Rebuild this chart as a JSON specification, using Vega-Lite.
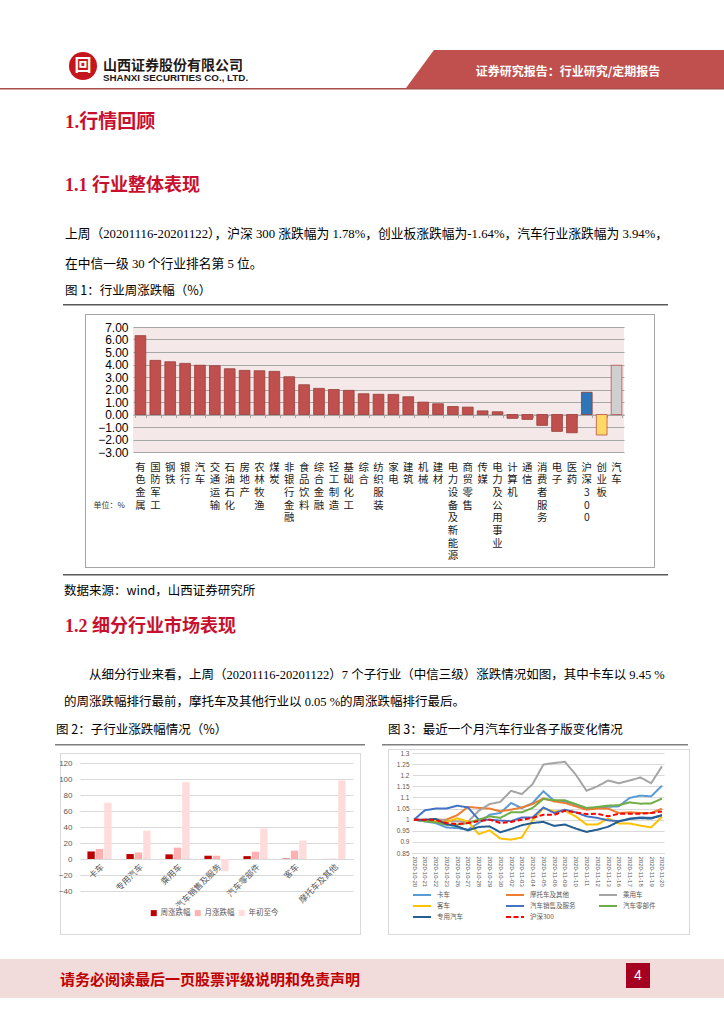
{
"$schema": "https://vega.github.io/schema/vega-lite/v6.json",
"background": "white",
"padding": 0,
"spacing": 0,
"bounds": "flush",
"resolve": {"scale": {"color": "independent", "stroke": "independent", "strokeDash": "independent"}, "legend": {"color": "independent", "stroke": "independent", "strokeDash": "independent"}},
"config": {"view": {"stroke": null}},
"datasets": {
"one": [{}],
"ind": [
{"name":"有色金属","v":6.31,"grp":"行业"},
{"name":"国防军工","v":4.33,"grp":"行业"},
{"name":"钢铁","v":4.22,"grp":"行业"},
{"name":"银行","v":4.09,"grp":"行业"},
{"name":"汽车","v":3.94,"grp":"行业"},
{"name":"交通运输","v":3.90,"grp":"行业"},
{"name":"石油石化","v":3.66,"grp":"行业"},
{"name":"房地产","v":3.53,"grp":"行业"},
{"name":"农林牧渔","v":3.50,"grp":"行业"},
{"name":"煤炭","v":3.45,"grp":"行业"},
{"name":"非银行金融","v":3.02,"grp":"行业"},
{"name":"食品饮料","v":2.38,"grp":"行业"},
{"name":"综合金融","v":2.09,"grp":"行业"},
{"name":"轻工制造","v":2.00,"grp":"行业"},
{"name":"基础化工","v":1.93,"grp":"行业"},
{"name":"综合","v":1.66,"grp":"行业"},
{"name":"纺织服装","v":1.62,"grp":"行业"},
{"name":"家电","v":1.61,"grp":"行业"},
{"name":"建筑","v":1.42,"grp":"行业"},
{"name":"机械","v":0.99,"grp":"行业"},
{"name":"建材","v":0.86,"grp":"行业"},
{"name":"电力设备及新能源","v":0.64,"grp":"行业"},
{"name":"商贸零售","v":0.59,"grp":"行业"},
{"name":"传媒","v":0.29,"grp":"行业"},
{"name":"电力及公用事业","v":0.22,"grp":"行业"},
{"name":"计算机","v":-0.31,"grp":"行业"},
{"name":"通信","v":-0.39,"grp":"行业"},
{"name":"消费者服务","v":-0.87,"grp":"行业"},
{"name":"电子","v":-1.35,"grp":"行业"},
{"name":"医药","v":-1.46,"grp":"行业"},
{"name":"沪深300","v":1.78,"grp":"沪深300"},
{"name":"创业板","v":-1.64,"grp":"创业板"},
{"name":"汽车 ","v":3.94,"grp":"汽车指数"}
],
"sub": [
{"c":"卡车","s":"周涨跌幅","v":9.45},{"c":"卡车","s":"月涨跌幅","v":12.6},{"c":"卡车","s":"年初至今","v":70.3},
{"c":"专用汽车","s":"周涨跌幅","v":6.2},{"c":"专用汽车","s":"月涨跌幅","v":8.2},{"c":"专用汽车","s":"年初至今","v":35.4},
{"c":"乘用车","s":"周涨跌幅","v":5.8},{"c":"乘用车","s":"月涨跌幅","v":14.2},{"c":"乘用车","s":"年初至今","v":96.0},
{"c":"汽车销售及服务","s":"周涨跌幅","v":4.1},{"c":"汽车销售及服务","s":"月涨跌幅","v":4.1},{"c":"汽车销售及服务","s":"年初至今","v":-15.3},
{"c":"汽车零部件","s":"周涨跌幅","v":3.6},{"c":"汽车零部件","s":"月涨跌幅","v":9.1},{"c":"汽车零部件","s":"年初至今","v":38.2},
{"c":"客车","s":"周涨跌幅","v":0.5},{"c":"客车","s":"月涨跌幅","v":10.4},{"c":"客车","s":"年初至今","v":23.1},
{"c":"摩托车及其他","s":"周涨跌幅","v":0.05},{"c":"摩托车及其他","s":"月涨跌幅","v":0.4},{"c":"摩托车及其他","s":"年初至今","v":98.2}
],
"trend": [
{"d":"2020-10-20","卡车":1.000,"摩托车及其他":1.000,"乘用车":1.000,"客车":1.000,"汽车销售及服务":1.000,"汽车零部件":1.000,"专用汽车":1.000,"沪深300":1.000},
{"d":"2020-10-21","卡车":0.992,"摩托车及其他":0.998,"乘用车":0.997,"客车":0.997,"汽车销售及服务":1.042,"汽车零部件":0.993,"专用汽车":1.000,"沪深300":1.000},
{"d":"2020-10-22","卡车":0.985,"摩托车及其他":1.000,"乘用车":1.003,"客车":0.993,"汽车销售及服务":1.050,"汽车零部件":0.988,"专用汽车":1.003,"沪深300":0.998},
{"d":"2020-10-23","卡车":0.965,"摩托车及其他":1.000,"乘用车":0.995,"客车":0.990,"汽车销售及服务":1.050,"汽车零部件":0.977,"专用汽车":0.980,"沪深300":0.985},
{"d":"2020-10-26","卡车":0.962,"摩托车及其他":1.020,"乘用车":0.992,"客车":1.006,"汽车销售及服务":1.063,"汽车零部件":0.977,"专用汽车":0.970,"沪深300":0.980},
{"d":"2020-10-27","卡车":0.955,"摩托车及其他":1.057,"乘用车":0.990,"客车":0.992,"汽车销售及服务":1.055,"汽车零部件":0.985,"专用汽车":0.952,"沪深300":0.985},
{"d":"2020-10-28","卡车":0.985,"摩托车及其他":1.053,"乘用车":1.040,"客车":0.935,"汽车销售及服务":1.000,"汽车零部件":1.000,"专用汽车":0.967,"沪深300":0.993},
{"d":"2020-10-29","卡车":1.022,"摩托车及其他":1.050,"乘用车":1.070,"客车":0.952,"汽车销售及服务":1.000,"汽车零部件":1.015,"专用汽车":0.970,"沪深300":1.000},
{"d":"2020-10-30","卡车":1.030,"摩托车及其他":1.038,"乘用车":1.080,"客车":0.915,"汽车销售及服务":0.996,"汽车零部件":1.008,"专用汽车":0.943,"沪深300":0.985},
{"d":"2020-11-02","卡车":1.075,"摩托车及其他":1.045,"乘用车":1.130,"客车":0.910,"汽车销售及服务":0.993,"汽车零部件":1.033,"专用汽车":0.958,"沪深300":0.990},
{"d":"2020-11-03","卡车":1.052,"摩托车及其他":1.055,"乘用车":1.115,"客车":0.920,"汽车销售及服务":1.010,"汽车零部件":1.033,"专用汽车":0.975,"沪深300":1.000},
{"d":"2020-11-04","卡车":1.075,"摩托车及其他":1.070,"乘用车":1.160,"客车":0.998,"汽车销售及服务":1.010,"汽车零部件":1.053,"专用汽车":0.985,"沪深300":1.008},
{"d":"2020-11-05","卡车":1.128,"摩托车及其他":1.096,"乘用车":1.248,"客车":1.052,"汽车销售及服务":1.055,"汽车零部件":1.093,"专用汽车":0.990,"沪深300":1.022},
{"d":"2020-11-06","卡车":1.085,"摩托车及其他":1.082,"乘用车":1.255,"客车":1.037,"汽车销售及服务":1.030,"汽车零部件":1.088,"专用汽车":0.972,"沪深300":1.022},
{"d":"2020-11-09","卡车":1.082,"摩托车及其他":1.075,"乘用车":1.260,"客车":1.040,"汽车销售及服务":1.045,"汽车零部件":1.087,"专用汽车":0.978,"沪深300":1.040},
{"d":"2020-11-10","卡车":1.068,"摩托车及其他":1.060,"乘用车":1.203,"客车":1.015,"汽车销售及服务":1.033,"汽车零部件":1.070,"专用汽车":0.960,"沪深300":1.033},
{"d":"2020-11-11","卡车":1.050,"摩托车及其他":1.045,"乘用车":1.130,"客车":0.978,"汽车销售及服务":1.015,"汽车零部件":1.053,"专用汽车":0.945,"沪深300":1.025},
{"d":"2020-11-12","卡车":1.053,"摩托车及其他":1.050,"乘用车":1.150,"客车":0.978,"汽车销售及服务":1.008,"汽车零部件":1.057,"专用汽车":0.955,"沪深300":1.027},
{"d":"2020-11-13","卡车":1.058,"摩托车及其他":1.050,"乘用车":1.176,"客车":1.005,"汽车销售及服务":0.997,"汽车零部件":1.063,"专用汽车":0.968,"沪深300":1.015},
{"d":"2020-11-16","卡车":1.060,"摩托车及其他":1.030,"乘用车":1.164,"客车":0.983,"汽车销售及服务":0.993,"汽车零部件":1.065,"专用汽车":0.992,"沪深300":1.027},
{"d":"2020-11-17","卡车":1.098,"摩托车及其他":1.033,"乘用车":1.176,"客车":0.983,"汽车销售及服务":1.005,"汽车零部件":1.078,"专用汽车":1.003,"沪深300":1.027},
{"d":"2020-11-18","卡车":1.108,"摩托车及其他":1.030,"乘用车":1.190,"客车":0.973,"汽车销售及服务":1.010,"汽车零部件":1.072,"专用汽车":1.007,"沪深300":1.027},
{"d":"2020-11-19","卡车":1.105,"摩托车及其他":1.030,"乘用车":1.164,"客车":0.965,"汽车销售及服务":1.008,"汽车零部件":1.073,"专用汽车":1.005,"沪深300":1.030},
{"d":"2020-11-20","卡车":1.153,"摩托车及其他":1.050,"乘用车":1.240,"客车":1.013,"汽车销售及服务":1.020,"汽车零部件":1.095,"专用汽车":1.020,"沪深300":1.037}
]
},
"vconcat": [
{"width":724,"height":50,"data":{"name":"one"},"mark":{"type":"text","text":""}},
{"hconcat":[
 {"width":68,"height":32,"data":{"name":"one"},"mark":{"type":"text","text":""}},
 {"width":30,"height":32,"data":{"name":"one"},"layer":[
   {"mark":{"type":"point","shape":"circle","filled":true,"size":784,"color":"#C4161C","opacity":1}},
   {"mark":{"type":"text","text":"回","color":"white","fontSize":17,"fontWeight":"bold","font":"Noto Sans CJK SC","baseline":"middle","align":"center"}}
 ]},
 {"width":5,"height":38,"data":{"name":"one"},"mark":{"type":"text","text":""}},
 {"width":300,"height":38,"data":{"name":"one"},"mark":{"type":"text","text":""},
  "title":{"text":"山西证券股份有限公司","subtitle":"SHANXI SECURITIES CO., LTD.","orient":"bottom","offset":-29,"anchor":"start","frame":"group","font":"Noto Sans CJK SC","fontSize":14,"fontWeight":"bold","color":"#231815","subtitleFont":"Liberation Sans","subtitleFontSize":9.8,"subtitleFontWeight":"bold","subtitleColor":"#231815","subtitlePadding":0}},
 {"width":3,"height":38,"data":{"name":"one"},"mark":{"type":"text","text":""}},
 {"width":318,"height":38,"data":{"name":"one"},"layer":[
   {"mark":{"type":"point","shape":"M-0.824,-0.1195L1,-0.1195L1,0.1195L-1,0.1195Z","filled":true,"size":101124,"color":"#C0504D","opacity":1,"strokeWidth":0}},
   {"mark":{"type":"text","text":"证券研究报告：行业研究/定期报告","color":"white","fontSize":12,"fontWeight":"bold","font":"Noto Sans CJK SC","dx":3,"dy":3,"baseline":"middle","align":"center"}}
 ]}
],"spacing":0,"bounds":"flush"},
{"width":724,"height":38,"data":{"name":"one"},"mark":{"type":"text","text":""}},
{"width":724,"height":1.5,"data":{"name":"one"},"mark":{"type":"text","text":""},"view":{"fill":"#A94F4C","stroke":null}},
{"width":724,"height":22.7,"data":{"name":"one"},"mark":{"type":"text","text":""}},
{"width":724,"height":63.4,"data":{"name":"one"},"mark":{"type":"text","text":""},
 "title":{"text":"1.行情回顾","orient":"bottom","offset":-63.4,"anchor":"start","frame":"group","dx":65,"font":"'Liberation Serif', 'Noto Sans CJK SC'","fontSize":19,"fontWeight":"bold","color":"#C8102E"}},
{"width":724,"height":51,"data":{"name":"one"},"mark":{"type":"text","text":""},
 "title":{"text":"1.1 行业整体表现","orient":"bottom","offset":-51,"anchor":"start","frame":"group","dx":65,"font":"'Liberation Serif', 'Noto Sans CJK SC'","fontSize":18,"fontWeight":"bold","color":"#C8102E"}},
{"width":724,"height":30,"data":{"name":"one"},"mark":{"type":"text","text":""},
 "title":{"text":"上周（20201116-20201122），沪深 300 涨跌幅为 1.78%，创业板涨跌幅为-1.64%，汽车行业涨跌幅为 3.94%，","orient":"bottom","offset":-30,"anchor":"start","frame":"group","dx":65,"font":"'Liberation Serif', 'Noto Sans CJK SC'","fontSize":12.75,"fontWeight":"normal","color":"#000000"}},
{"width":724,"height":26.3,"data":{"name":"one"},"mark":{"type":"text","text":""},
 "title":{"text":"在中信一级 30 个行业排名第 5 位。","orient":"bottom","offset":-26.3,"anchor":"start","frame":"group","dx":65,"font":"'Liberation Serif', 'Noto Sans CJK SC'","fontSize":12.75,"fontWeight":"normal","color":"#000000"}},
{"width":724,"height":18.1,"data":{"name":"one"},"mark":{"type":"text","text":""},
 "title":{"text":"图 1：行业周涨跌幅（%）","orient":"bottom","offset":-18.1,"anchor":"start","frame":"group","dx":65,"font":"Noto Sans CJK SC","fontSize":12.5,"fontWeight":"normal","color":"#000000"}},
{"hconcat":[
 {"width":63,"height":1.5,"data":{"name":"one"},"mark":{"type":"text","text":""}},
 {"width":605,"height":1.5,"data":{"name":"one"},"mark":{"type":"text","text":""},"view":{"fill":"#595959","stroke":null}}
],"spacing":0,"bounds":"flush"},
{"width":724,"height":10,"data":{"name":"one"},"mark":{"type":"text","text":""}},
{"hconcat":[
 {"width":85,"height":1,"data":{"name":"one"},"mark":{"type":"text","text":""}},
 {"width":570,"height":1,"data":{"name":"one"},"mark":{"type":"text","text":""},"view":{"fill":"#A6A6A6","stroke":null}}
],"spacing":0,"bounds":"flush"},
{"hconcat":[
 {"width":85,"height":253,"data":{"name":"one"},"mark":{"type":"text","text":""}},
 {"width":1,"height":253,"data":{"name":"one"},"mark":{"type":"text","text":""},"view":{"fill":"#A6A6A6","stroke":null}},
 {"width":568,"height":253,"data":{"name":"one"},"mark":{"type":"text","text":""}},
 {"width":1,"height":253,"data":{"name":"one"},"mark":{"type":"text","text":""},"view":{"fill":"#A6A6A6","stroke":null}}
],"spacing":0,"bounds":"flush"},
{"width":724,"height":13,"data":{"name":"one"},"mark":{"type":"text","text":""}},
{"hconcat":[
 {"width":133,"height":125,"data":{"name":"one"},"mark":{"type":"text","text":""}},
 {"width":491,"height":125,
  "data":{"name":"ind"},
  "view":{"fill":"#F4E8E8","stroke":null},
  "layer":[
   {"mark":{"type":"bar","strokeWidth":0.8},
    "encoding":{
     "x":{"field":"name","type":"nominal","sort":null,"scale":{"paddingInner":0.28,"paddingOuter":0.14},
      "axis":{"title":null,"labelAngle":0,"labelExpr":"split(trim(datum.label), '')","labelBaseline":"top","labelAlign":"center","labelLineHeight":12.7,"labelFontSize":10.4,"labelFont":"Noto Sans CJK SC","labelColor":"#1a1a1a","labelPadding":10,"ticks":false,"tickSize":0,"domain":false,"labelOverlap":false,"grid":false}},
     "y":{"field":"v","type":"quantitative","scale":{"domain":[-3,7],"nice":false,"zero":false},
      "axis":{"values":[-3,-2,-1,0,1,2,3,4,5,6,7],"format":".2f","grid":true,"gridColor":"#A6A6A6","gridWidth":1,"domain":false,"ticks":false,"tickSize":0,"labelFontSize":12,"labelFont":"Liberation Sans","labelColor":"#000000","labelPadding":5,"title":"单位：%","titleAngle":0,"titleX":-40,"titleY":178,"titleAlign":"left","titleBaseline":"middle","titleFontSize":8,"titleFontWeight":"normal","titleFont":"Noto Sans CJK SC","titleColor":"#333333"}},
     "color":{"field":"grp","type":"nominal","scale":{"domain":["行业","沪深300","创业板","汽车指数"],"range":["#C0504D","#2E75B6","#FFD966","#CFCFCF"]},"legend":null},
     "stroke":{"field":"grp","type":"nominal","scale":{"domain":["行业","沪深300","创业板","汽车指数"],"range":["#9B3D3A","#8E3B3A","#C0504D","#C0504D"]},"legend":null}
    }},
   {"mark":{"type":"rule","opacity":0},
    "encoding":{
     "x":{"field":"name","type":"nominal","sort":null,
      "axis":{"title":null,"orient":"bottom","offset":-37.5,"labels":false,"domain":true,"domainColor":"#A6A6A6","ticks":true,"tickColor":"#A6A6A6","tickSize":3,"tickBand":"extent","grid":false}}
    }}
  ],
  "resolve":{"axis":{"x":"independent"}}
 }
],"spacing":0,"bounds":"flush"},
{"width":724,"height":240,"data":{"name":"one"},"mark":{"type":"text","text":""}},
{"hconcat":[
 {"width":85,"height":1,"data":{"name":"one"},"mark":{"type":"text","text":""}},
 {"width":570,"height":1,"data":{"name":"one"},"mark":{"type":"text","text":""},"view":{"fill":"#A6A6A6","stroke":null}}
],"spacing":0,"bounds":"flush"},
{"width":724,"height":7,"data":{"name":"one"},"mark":{"type":"text","text":""}},
{"hconcat":[
 {"width":63,"height":1.5,"data":{"name":"one"},"mark":{"type":"text","text":""}},
 {"width":605,"height":1.5,"data":{"name":"one"},"mark":{"type":"text","text":""},"view":{"fill":"#595959","stroke":null}}
],"spacing":0,"bounds":"flush"},
{"width":724,"height":10.6,"data":{"name":"one"},"mark":{"type":"text","text":""}},
{"width":724,"height":32.7,"data":{"name":"one"},"mark":{"type":"text","text":""},
 "title":{"text":"数据来源：wind，山西证券研究所","orient":"bottom","offset":-32.7,"anchor":"start","frame":"group","dx":64,"font":"Noto Sans CJK SC","fontSize":12.5,"fontWeight":"normal","color":"#000000"}},
{"width":724,"height":50.6,"data":{"name":"one"},"mark":{"type":"text","text":""},
 "title":{"text":"1.2 细分行业市场表现","orient":"bottom","offset":-50.6,"anchor":"start","frame":"group","dx":65,"font":"'Liberation Serif', 'Noto Sans CJK SC'","fontSize":18,"fontWeight":"bold","color":"#C8102E"}},
{"width":724,"height":27,"data":{"name":"one"},"mark":{"type":"text","text":""},
 "title":{"text":"从细分行业来看，上周（20201116-20201122）7 个子行业（中信三级）涨跌情况如图，其中卡车以 9.45 %","orient":"bottom","offset":-27,"anchor":"start","frame":"group","dx":89,"font":"'Liberation Serif', 'Noto Sans CJK SC'","fontSize":12.5,"fontWeight":"normal","color":"#000000"}},
{"width":724,"height":28,"data":{"name":"one"},"mark":{"type":"text","text":""},
 "title":{"text":"的周涨跌幅排行最前，摩托车及其他行业以 0.05 %的周涨跌幅排行最后。","orient":"bottom","offset":-28,"anchor":"start","frame":"group","dx":64,"font":"'Liberation Serif', 'Noto Sans CJK SC'","fontSize":12.5,"fontWeight":"normal","color":"#000000"}},
{"hconcat":[
 {"width":56,"height":19,"data":{"name":"one"},"mark":{"type":"text","text":""}},
 {"width":332,"height":19,"data":{"name":"one"},"mark":{"type":"text","text":""},
  "title":{"text":"图 2：子行业涨跌幅情况（%）","orient":"bottom","offset":-19,"anchor":"start","frame":"group","font":"Noto Sans CJK SC","fontSize":12.5,"fontWeight":"normal","color":"#000000"}},
 {"width":336,"height":19,"data":{"name":"one"},"mark":{"type":"text","text":""},
  "title":{"text":"图 3：最近一个月汽车行业各子版变化情况","orient":"bottom","offset":-19,"anchor":"start","frame":"group","font":"Noto Sans CJK SC","fontSize":12.5,"fontWeight":"normal","color":"#000000"}}
],"spacing":0,"bounds":"flush"},
{"width":724,"height":19.1,"data":{"name":"one"},"mark":{"type":"text","text":""}},
{"hconcat":[
 {"width":55,"height":1.5,"data":{"name":"one"},"mark":{"type":"text","text":""}},
 {"width":310,"height":1.5,"data":{"name":"one"},"mark":{"type":"text","text":""},"view":{"fill":"#7F7F7F","stroke":null}},
 {"width":17,"height":1.5,"data":{"name":"one"},"mark":{"type":"text","text":""}},
 {"width":306,"height":1.5,"data":{"name":"one"},"mark":{"type":"text","text":""},"view":{"fill":"#7F7F7F","stroke":null}}
],"spacing":0,"bounds":"flush"},
{"width":724,"height":4.3,"data":{"name":"one"},"mark":{"type":"text","text":""}},
{"hconcat":[
 {"width":388,"height":1,"data":{"name":"one"},"mark":{"type":"text","text":""}},
 {"width":302,"height":1,"data":{"name":"one"},"mark":{"type":"text","text":""},"view":{"fill":"#D9D9D9","stroke":null}}
],"spacing":0,"bounds":"flush"},
{"hconcat":[
 {"width":388,"height":185,"data":{"name":"one"},"mark":{"type":"text","text":""}},
 {"width":1,"height":185,"data":{"name":"one"},"mark":{"type":"text","text":""},"view":{"fill":"#D9D9D9","stroke":null}},
 {"width":300,"height":185,"data":{"name":"one"},"mark":{"type":"text","text":""}},
 {"width":1,"height":185,"data":{"name":"one"},"mark":{"type":"text","text":""},"view":{"fill":"#D9D9D9","stroke":null}}
],"spacing":0,"bounds":"flush"},
{"width":724,"height":3.7,"data":{"name":"one"},"mark":{"type":"text","text":""}},
{"hconcat":[
 {"width":412,"height":100,"data":{"name":"one"},"mark":{"type":"text","text":""}},
 {"width":252,"height":100,
  "data":{"name":"trend"},
  "transform":[{"fold":["卡车","摩托车及其他","乘用车","客车","汽车销售及服务","汽车零部件","专用汽车","沪深300"],"as":["s","v"]}],
  "mark":{"type":"line","strokeWidth":2},
  "encoding":{
   "x":{"field":"d","type":"ordinal","scale":{"type":"point","padding":0.19},
    "axis":{"title":null,"labelAngle":90,"labelFontSize":6,"labelFont":"Liberation Sans","labelColor":"#595959","ticks":false,"tickSize":0,"domainColor":"#D9D9D9","labelPadding":3,"grid":false}},
   "y":{"field":"v","type":"quantitative","scale":{"domain":[0.85,1.3],"nice":false,"zero":false},
    "axis":{"title":null,"values":[0.85,0.9,0.95,1,1.05,1.1,1.15,1.2,1.25,1.3],"format":"~g","grid":true,"gridColor":"#D9D9D9","domain":false,"ticks":false,"tickSize":0,"labelFontSize":6.5,"labelFont":"Liberation Sans","labelColor":"#595959","labelPadding":3}},
   "color":{"field":"s","type":"nominal","scale":{"domain":["卡车","摩托车及其他","乘用车","客车","汽车销售及服务","汽车零部件","专用汽车","沪深300"],"range":["#5B9BD5","#ED7D31","#A5A5A5","#FFC000","#4472C4","#70AD47","#255E91","#FF0000"]},
    "legend":{"title":null,"orient":"none","legendX":416,"legendY":136,"direction":"horizontal","columns":3,"gridAlign":"all","columnPadding":19,"rowPadding":1,"symbolType":"M-1.8,0L1.8,0","symbolSize":100,"symbolStrokeWidth":2,"labelFontSize":6.5,"labelFont":"Noto Sans CJK SC","labelColor":"#595959","labelOffset":9}},
   "strokeDash":{"field":"s","type":"nominal","scale":{"domain":["卡车","摩托车及其他","乘用车","客车","汽车销售及服务","汽车零部件","专用汽车","沪深300"],"range":[[1,0],[1,0],[1,0],[1,0],[1,0],[1,0],[1,0],[5,2.5]]},
    "legend":{"title":null,"orient":"none","legendX":416,"legendY":136,"direction":"horizontal","columns":3,"gridAlign":"all","columnPadding":19,"rowPadding":1,"symbolType":"M-1.8,0L1.8,0","symbolSize":100,"symbolStrokeWidth":2,"labelFontSize":6.5,"labelFont":"Noto Sans CJK SC","labelColor":"#595959","labelOffset":9}}
  }
 }
],"spacing":0,"bounds":"flush"},
{"hconcat":[
 {"width":60,"height":1,"data":{"name":"one"},"mark":{"type":"text","text":""}},
 {"width":301,"height":1,"data":{"name":"one"},"mark":{"type":"text","text":""},"view":{"fill":"#D9D9D9","stroke":null}}
],"spacing":0,"bounds":"flush"},
{"hconcat":[
 {"width":60,"height":181,"data":{"name":"one"},"mark":{"type":"text","text":""}},
 {"width":1,"height":181,"data":{"name":"one"},"mark":{"type":"text","text":""},"view":{"fill":"#D9D9D9","stroke":null}},
 {"width":299,"height":181,"data":{"name":"one"},"mark":{"type":"text","text":""}},
 {"width":1,"height":181,"data":{"name":"one"},"mark":{"type":"text","text":""},"view":{"fill":"#D9D9D9","stroke":null}}
],"spacing":0,"bounds":"flush"},
{"width":724,"height":10,"data":{"name":"one"},"mark":{"type":"text","text":""}},
{"hconcat":[
 {"width":80,"height":128,"data":{"name":"one"},"mark":{"type":"text","text":""}},
 {"width":273,"height":128,
  "data":{"name":"sub"},
  "mark":{"type":"bar"},
  "encoding":{
   "x":{"field":"c","type":"nominal","sort":null,"scale":{"paddingInner":0.38,"paddingOuter":0.19},
    "axis":{"title":null,"offset":-32,"labelAngle":-45,"labelFontSize":8.5,"labelFont":"Noto Sans CJK SC","labelColor":"#595959","ticks":false,"tickSize":0,"domainColor":"#D9D9D9","labelPadding":3,"grid":false}},
   "xOffset":{"field":"s","type":"nominal","sort":["周涨跌幅","月涨跌幅","年初至今"],"scale":{"paddingInner":0.12}},
   "y":{"field":"v","type":"quantitative","scale":{"domain":[-40,120],"nice":false},
    "axis":{"title":null,"values":[-40,-20,0,20,40,60,80,100,120],"grid":true,"gridColor":"#D9D9D9","domain":false,"ticks":false,"tickSize":0,"labelFontSize":8,"labelFont":"Liberation Sans","labelColor":"#595959","labelPadding":8}},
   "color":{"field":"s","type":"nominal","sort":["周涨跌幅","月涨跌幅","年初至今"],"scale":{"domain":["周涨跌幅","月涨跌幅","年初至今"],"range":["#C00000","#FFB0B0","#FFDCDC"]},
    "legend":{"title":null,"orient":"none","legendX":150,"legendY":146,"direction":"horizontal","symbolType":"square","symbolSize":36,"symbolStrokeWidth":0,"labelFontSize":7.5,"labelFont":"Noto Sans CJK SC","labelColor":"#595959","columnPadding":3,"labelOffset":3}}
  }
 }
],"spacing":0,"bounds":"flush"},
{"width":724,"height":171,"data":{"name":"one"},"mark":{"type":"text","text":""}},
{"hconcat":[
 {"width":60,"height":1,"data":{"name":"one"},"mark":{"type":"text","text":""}},
 {"width":301,"height":1,"data":{"name":"one"},"mark":{"type":"text","text":""},"view":{"fill":"#D9D9D9","stroke":null}},
 {"width":27,"height":1,"data":{"name":"one"},"mark":{"type":"text","text":""}},
 {"width":302,"height":1,"data":{"name":"one"},"mark":{"type":"text","text":""},"view":{"fill":"#D9D9D9","stroke":null}}
],"spacing":0,"bounds":"flush"},
{"width":724,"height":25,"data":{"name":"one"},"mark":{"type":"text","text":""}},
{"hconcat":[
 {"width":724,"height":39,"data":{"name":"one"},"mark":{"type":"text","text":""},"view":{"fill":"#F2DCDB","stroke":null},
  "title":{"text":"请务必阅读最后一页股票评级说明和免责声明","orient":"bottom","offset":-25.5,"anchor":"start","frame":"group","dx":60,"font":"Noto Sans CJK SC","fontSize":15,"fontWeight":"bold","color":"#C00000"}}
],"spacing":0,"bounds":"flush"},
{"width":724,"height":4,"data":{"name":"one"},"mark":{"type":"text","text":""}},
{"hconcat":[
 {"width":626,"height":25,"data":{"name":"one"},"mark":{"type":"text","text":""}},
 {"width":24,"height":25,"data":{"values":[{"p":"4"}]},"view":{"fill":"#A50021","stroke":null},
  "mark":{"type":"text","color":"white","fontSize":14,"font":"Liberation Sans","baseline":"middle","align":"center"},
  "encoding":{"text":{"field":"p","type":"nominal"}}}
],"spacing":0,"bounds":"flush"},
{"width":724,"height":67,"data":{"name":"one"},"mark":{"type":"text","text":""}}
]
}
